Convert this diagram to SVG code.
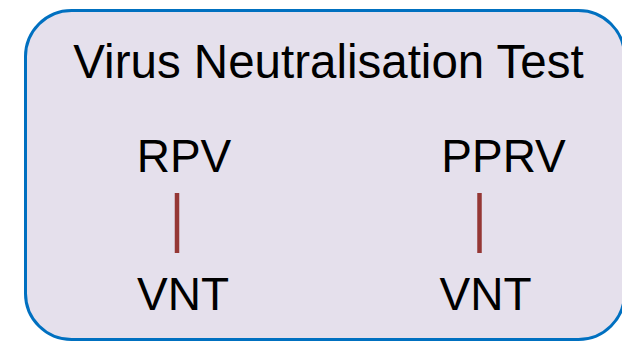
<svg xmlns="http://www.w3.org/2000/svg" width="622" height="341" viewBox="0 0 622 341">
<style>
.t{font-family:"Liberation Sans",Arial,sans-serif;fill:#000;text-anchor:middle}
.c{stroke:#953735;stroke-width:4.5;fill:none}
</style>
<rect width="622" height="341" fill="#fff"/>
<g id="box">
<rect x="25.5" y="10.5" width="599" height="329" rx="46" ry="46" fill="#e5e0ec" stroke="#0070c0" stroke-width="3"/>
<text class="t" x="328.5" y="78" font-size="47.5">Virus Neutralisation Test</text>
</g>
<g id="rpv"><text class="t" x="184" y="172" font-size="46">RPV</text></g>
<g id="pprv"><text class="t" x="503.5" y="172" font-size="46">PPRV</text></g>
<g id="vnt1"><text class="t" x="183" y="310" font-size="46">VNT</text></g>
<g id="vnt2"><text class="t" x="485.5" y="310" font-size="46">VNT</text></g>
<g id="connectors">
<line class="c" x1="177" y1="193" x2="177" y2="253"/>
<line class="c" x1="479.5" y1="193" x2="479.5" y2="253"/>
</g>
</svg>
